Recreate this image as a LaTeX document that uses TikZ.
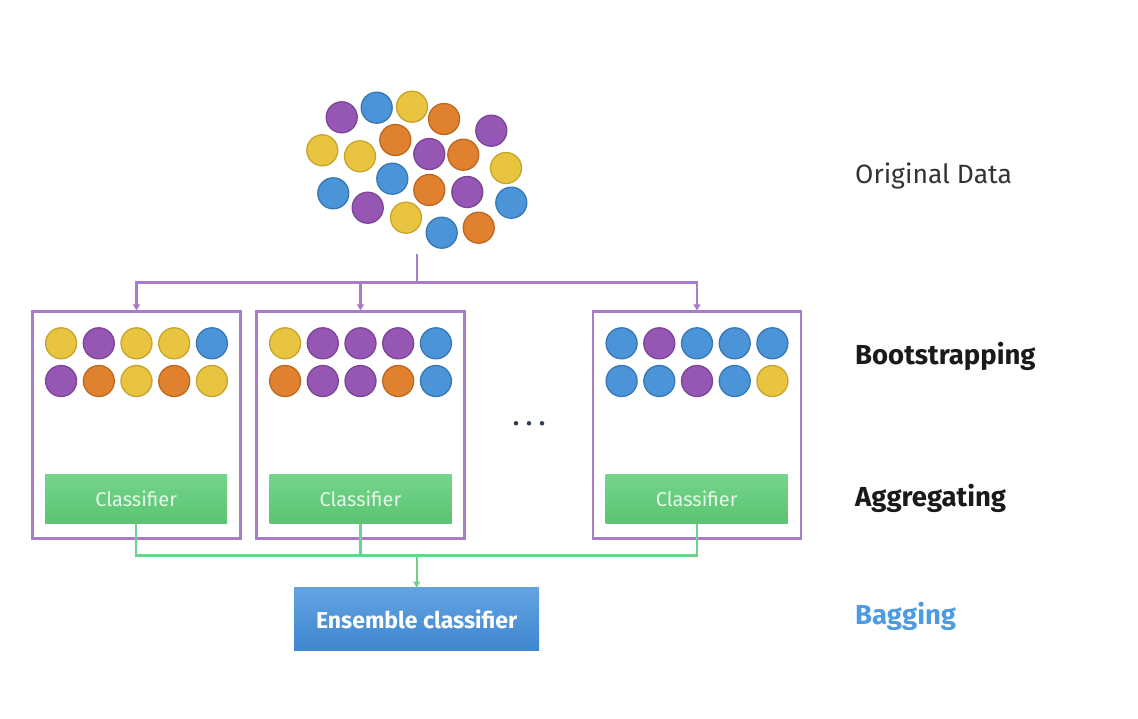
\documentclass[tikz,border=0pt]{standalone}
\usepackage{fontspec}
\setmainfont{Fira Sans}
\usetikzlibrary{arrows.meta}
\definecolor{cY}{HTML}{E9C440}
\definecolor{cYd}{HTML}{C7A42C}
\definecolor{cP}{HTML}{9657B4}
\definecolor{cPd}{HTML}{7B4497}
\definecolor{cB}{HTML}{4B94D7}
\definecolor{cBd}{HTML}{3678B6}
\definecolor{cO}{HTML}{E0812F}
\definecolor{cOd}{HTML}{BD6821}
\definecolor{boxP}{HTML}{A97CC9}
\definecolor{lineG}{HTML}{6DD389}
\definecolor{clsTop}{HTML}{74D58A}
\definecolor{clsBot}{HTML}{5BC472}
\definecolor{ensTop}{HTML}{62A3E2}
\definecolor{ensBot}{HTML}{3E86CF}
\definecolor{labGray}{HTML}{333333}
\definecolor{labDark}{HTML}{1A1A1A}
\definecolor{bagBlue}{HTML}{4D9BE2}
\definecolor{dotC}{HTML}{2E3D4F}
\definecolor{clsText}{HTML}{E4F7E8}
\tikzset{
  dotY/.style={circle,minimum size=31pt,inner sep=0pt,fill=cY,draw=cYd,line width=1.3pt},
  dotP/.style={circle,minimum size=31pt,inner sep=0pt,fill=cP,draw=cPd,line width=1.3pt},
  dotB/.style={circle,minimum size=31pt,inner sep=0pt,fill=cB,draw=cBd,line width=1.3pt},
  dotO/.style={circle,minimum size=31pt,inner sep=0pt,fill=cO,draw=cOd,line width=1.3pt},
  sample/.style={draw=boxP,line width=2.2pt,fill=white,minimum width=208pt,minimum height=227pt,inner sep=0pt},
  cls/.style={top color=clsTop,bottom color=clsBot,minimum width=182pt,minimum height=49pt,inner sep=0pt,text=clsText,font=\fontsize{20}{22}\selectfont},
  ens/.style={top color=ensTop,bottom color=ensBot,minimum width=245pt,minimum height=63pt,inner sep=0pt,text=white,font=\bfseries\fontsize{23}{26}\selectfont},
  pline/.style={draw=boxP,line width=2.2pt},
  gline/.style={draw=lineG,line width=2.2pt},
  tip/.style={-{Triangle[length=6pt,width=7pt]}},
  lab/.style={anchor=base west,inner sep=0pt,font=\fontsize{26.5}{30}\selectfont},
  blab/.style={anchor=base west,inner sep=0pt,font=\bfseries\fontsize{27.5}{30}\selectfont},
  ell/.style={circle,fill=dotC,minimum size=4.5pt,inner sep=0pt}
}
\begin{document}
\begin{tikzpicture}[x=1pt,y=-1pt]
\fill[white] (0,0) rectangle (1138,718);
\useasboundingbox (0,0) rectangle (1138,718);
% original data cloud
\node[dotP] (c1) at (341.7,117.3) {};
\node[dotB] (c2) at (376.7,107.7) {};
\node[dotY] (c3) at (412,106.7) {};
\node[dotO] (c4) at (444,119) {};
\node[dotP] (c5) at (491.3,130.7) {};
\node[dotY] (c6) at (322.3,150.3) {};
\node[dotY] (c7) at (360,156.3) {};
\node[dotO] (c8) at (395.3,140) {};
\node[dotP] (c9) at (429.3,154) {};
\node[dotO] (c10) at (463.3,154.7) {};
\node[dotY] (c11) at (506,168) {};
\node[dotB] (c12) at (333.3,193.3) {};
\node[dotB] (c13) at (392.3,178.7) {};
\node[dotO] (c14) at (429.3,190) {};
\node[dotP] (c15) at (467.3,192) {};
\node[dotP] (c16) at (367.7,207.7) {};
\node[dotY] (c17) at (406,217.7) {};
\node[dotB] (c18) at (441.7,232.7) {};
\node[dotO] (c19) at (478.7,227.7) {};
\node[dotB] (c20) at (511.3,202.7) {};
% sample boxes
\node[sample] (b1) at (136.5,425) {};
\node[sample] (b2) at (360.5,425) {};
\node[sample] (b3) at (697,425) {};
% samples
\foreach \c [count=\i] in {Y,P,Y,Y,B} \node[dot\c] (b1r1\i) at ({136.5+(\i-3)*37.7},343.3) {};
\foreach \c [count=\i] in {P,O,Y,O,Y} \node[dot\c] (b1r2\i) at ({136.5+(\i-3)*37.7},381) {};
\foreach \c [count=\i] in {Y,P,P,P,B} \node[dot\c] (b2r1\i) at ({360.5+(\i-3)*37.7},343.3) {};
\foreach \c [count=\i] in {O,P,P,O,B} \node[dot\c] (b2r2\i) at ({360.5+(\i-3)*37.7},381) {};
\foreach \c [count=\i] in {B,P,B,B,B} \node[dot\c] (b3r1\i) at ({697+(\i-3)*37.7},343.3) {};
\foreach \c [count=\i] in {B,B,P,B,Y} \node[dot\c] (b3r2\i) at ({697+(\i-3)*37.7},381) {};
% ellipsis
\node[ell] (e1) at (516,423.3) {};
\node[ell] (e2) at (529,423.3) {};
\node[ell] (e3) at (542,423.3) {};
% classifiers
\node[cls] (k1) at (136.2,498.8) {Classifier};
\node[cls] (k2) at (360.5,498.8) {Classifier};
\node[cls] (k3) at (696.7,498.8) {Classifier};
\node[ens] (ens) at (416.7,619.3) {Ensemble classifier};
% purple connectors
\coordinate (src) at (416.7,254);
\coordinate (split) at (416.7,282.5);
\draw[pline] (src) -- (split);
\draw[pline,tip] (split) -| (b1.north);
\draw[pline,tip] (split) -| (b2.north);
\draw[pline,tip] (split) -| (b3.north);
% green connectors
\coordinate (merge) at (416.7,555.5);
\draw[gline] (k1.south) |- (merge);
\draw[gline] (k3.south) |- (merge);
\draw[gline] (k2.south) -- (k2.south |- merge);
\draw[gline,tip] (merge) -- (ens.north);
% labels
\node[lab,text=labGray] (l1) at (855,183.3) {Original Data};
\node[blab,text=labDark] (l2) at (855,364) {Bootstrapping};
\node[blab,text=labDark] (l3) at (855,506.5) {Aggregating};
\node[blab,text=bagBlue] (l4) at (855,624) {Bagging};
\end{tikzpicture}
\end{document}
